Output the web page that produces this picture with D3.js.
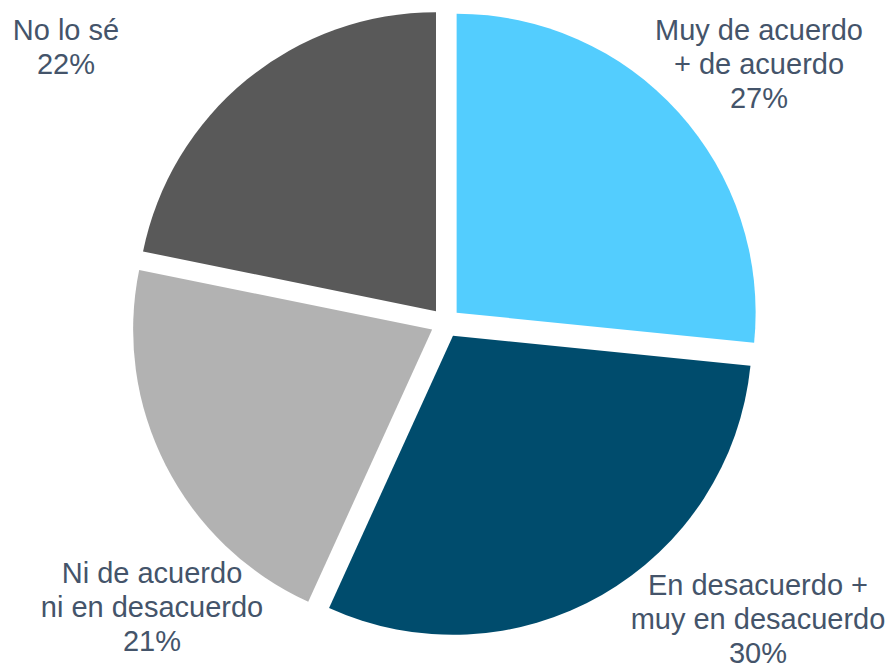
<!DOCTYPE html>
<html>
<head>
<meta charset="utf-8">
<script src="https://d3js.org/d3.v7.min.js"></script>
<style>
  body { margin: 0; background: #fff; }
  text { font-family: "Liberation Sans", Arial, sans-serif; }
</style>
</head>
<body>
<div id="chart"></div>
<script>
// data
var categories = ["Muy de acuerdo\n+ de acuerdo", "En desacuerdo +\nmuy en desacuerdo", "Ni de acuerdo\nni en desacuerdo", "No lo sé"]
var values = [26.6, 30.2, 21.4, 21.8]
var colors = ["#53CDFE", "#004C6D", "url(#grayGrad)", "#595959"]
// where each label block sits (centre x, first baseline y)
var labelPos = [[759, 40], [758, 595], [152, 583], [66, 40]]

var width = 894, height = 670
var cx = 445.5, cy = 322.8
var radius = 299, explode = 15
var fontSize = 29, lineH = 34

var svg = d3.select("#chart").append("svg")
  .attr("width", width)
  .attr("height", height)

var grad = svg.append("defs").append("linearGradient")
  .attr("id", "grayGrad")
  .attr("gradientUnits", "userSpaceOnUse")
  .attr("x1", 0).attr("y1", cy - 60).attr("x2", 0).attr("y2", cy + radius)
grad.append("stop").attr("offset", "0%").attr("stop-color", "#B2B2B2")
grad.append("stop").attr("offset", "100%").attr("stop-color", "#8E8E8E")

var pie = d3.pie().sort(null).value(function(d) { return d })
var arc = d3.arc().innerRadius(0).outerRadius(radius)

var g = svg.append("g").attr("transform", "translate(" + cx + "," + cy + ")")

g.selectAll("path")
  .data(pie(values))
  .enter().append("path")
  .attr("d", arc)
  .attr("fill", function(d, i) { return colors[i] })
  .attr("transform", function(d) {
    var a = (d.startAngle + d.endAngle) / 2
    return "translate(" + (Math.sin(a) * explode) + "," + (-Math.cos(a) * explode) + ")"
  })

// labels
categories.forEach(function(c, i) {
  var lines = c.split("\n").concat([Math.round(values[i]) + "%"])
  var t = svg.append("text")
    .attr("text-anchor", "middle")
    .attr("font-size", fontSize)
    .attr("fill", "#44546A")
  lines.forEach(function(l, j) {
    t.append("tspan")
      .attr("x", labelPos[i][0])
      .attr("y", labelPos[i][1] + j * lineH)
      .text(l)
  })
})
</script>
</body>
</html>
